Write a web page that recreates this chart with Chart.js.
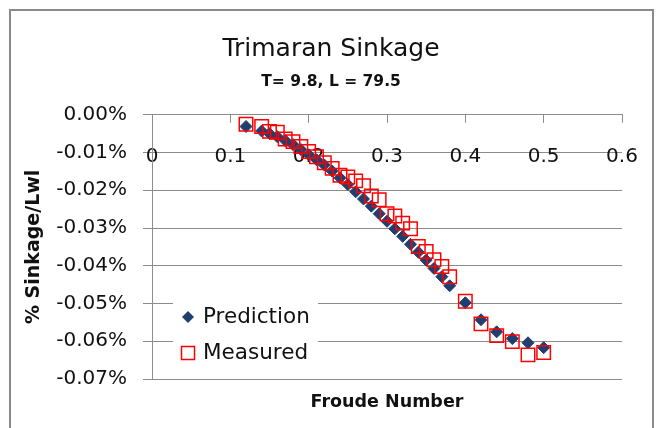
<!DOCTYPE html>
<html>
<head>
<meta charset="utf-8">
<script src="https://cdn.jsdelivr.net/npm/chart.js@4/dist/chart.umd.min.js"></script>
<style>
  html, body { margin: 0; padding: 0; background: #fff; }
  #wrap { position: relative; width: 657px; height: 428px; overflow: hidden; }
  #frame { position: absolute; left: 9px; top: 9px; width: 645px; height: 440px; border: 2px solid #8a8a8a; box-sizing: border-box; }
  canvas { position: absolute; left: 0; top: 0; }
</style>
</head>
<body>
<div id="wrap">
  <div id="frame"></div>
  <canvas id="chart" width="657" height="428"></canvas>
</div>
<script>
// Froude number vs sinkage (% of Lwl)
const froude = [0.12, 0.14, 0.15, 0.16, 0.17, 0.18, 0.19, 0.20, 0.21, 0.22, 0.23, 0.24, 0.25, 0.26, 0.27, 0.28,
                0.29, 0.30, 0.31, 0.32, 0.33, 0.34, 0.35, 0.36, 0.37, 0.38, 0.40, 0.42, 0.44, 0.46, 0.48, 0.50];
const prediction = [-0.0031, -0.0043, -0.0050, -0.0058, -0.0068, -0.0079, -0.0092, -0.0106, -0.0119, -0.0133,
                    -0.0149, -0.0167, -0.0185, -0.0204, -0.0223, -0.0242, -0.0262, -0.0282, -0.0302, -0.0322,
                    -0.0343, -0.0364, -0.0385, -0.0407, -0.0429, -0.0453, -0.0498, -0.0543, -0.0575, -0.0593,
                    -0.0604, -0.0617];
const measured = [-0.0025, -0.0031, -0.0044, -0.0046, -0.0064, -0.0071, -0.0084, -0.0097, -0.0111, -0.0127,
                  -0.0142, -0.0160, -0.0165, -0.0175, -0.0188, -0.0215, -0.0225, -0.0262, -0.0268, -0.0287,
                  -0.0302, -0.0349, -0.0362, -0.0384, -0.0402, -0.0429, -0.0494, -0.0554, -0.0585, -0.0601,
                  -0.0636, -0.0630];
const seriesNames = ["Prediction", "Measured"];

const FONT = "'DejaVu Sans', sans-serif";
const NAVY = "#1f3f6f";
const RED = "#ff0000";
const GRID = "#8c8c8c";
const TXT = "#111";

// legend sits inside the plot, lower left, on a white box
const legendBox = {
    id: "legendBox",
    afterDraw(chart) {
        const ctx = chart.ctx;
        const area = chart.chartArea;
        const bx = area.left + 21, by = area.bottom - 83;
        ctx.save();
        ctx.fillStyle = "#fff";
        ctx.fillRect(bx, by, 145, 74);
        const mx = bx + 15, r1 = by + 21, r2 = by + 57;
        // diamond
        ctx.fillStyle = NAVY;
        ctx.beginPath();
        ctx.moveTo(mx - 6, r1); ctx.lineTo(mx, r1 - 6); ctx.lineTo(mx + 6, r1); ctx.lineTo(mx, r1 + 6);
        ctx.closePath();
        ctx.fill();
        // square
        ctx.strokeStyle = RED;
        ctx.lineWidth = 1.5;
        ctx.strokeRect(mx - 6.5, r2 - 6.5, 13, 13);
        ctx.fillStyle = TXT;
        ctx.font = "21.5px " + FONT;
        ctx.textBaseline = "middle";
        ctx.fillText(seriesNames[0], bx + 30, r1);
        ctx.fillText(seriesNames[1], bx + 30, r2);
        ctx.restore();
    }
};

let ctx1 = document.getElementById("chart").getContext("2d");
new Chart(ctx1, {
    type: "scatter",
    data: {
        datasets: [
            {
                label: seriesNames[0],
                data: froude.map((f, i) => ({ x: f, y: prediction[i] })),
                pointStyle: "rectRot",
                pointRadius: 6,
                backgroundColor: NAVY,
                borderColor: NAVY,
                borderWidth: 1,
                order: 1
            },
            {
                label: seriesNames[1],
                data: froude.map((f, i) => ({ x: f, y: measured[i] })),
                pointStyle: "rect",
                pointRadius: 9.5,
                backgroundColor: "rgba(0,0,0,0)",
                borderColor: RED,
                borderWidth: 1.5,
                order: 0
            }
        ]
    },
    options: {
        responsive: false,
        animation: false,
        layout: { padding: { left: 8, top: 34, right: 3, bottom: 0 } },
        plugins: {
            legend: { display: false },
            tooltip: { enabled: false },
            title: {
                display: true, text: "Trimaran Sinkage", color: TXT,
                font: { family: FONT, size: 25, weight: "normal" },
                padding: { top: 0, bottom: 9 }
            },
            subtitle: {
                display: true, text: "T= 9.8, L = 79.5", color: TXT,
                font: { family: FONT, size: 15.5, weight: "bold" },
                padding: { top: 0, bottom: 0 }
            }
        },
        scales: {
            x: {
                type: "linear", position: "top", min: 0, max: 0.6,
                ticks: {
                    stepSize: 0.1, mirror: true, padding: 30, color: TXT,
                    font: { family: FONT, size: 20 },
                    callback: v => String(Math.round(v * 10) / 10)
                },
                grid: { drawOnChartArea: false, drawTicks: true, tickLength: -8, color: GRID },
                border: { display: true, color: GRID, width: 1 },
                afterFit: s => { s.height = 23.2; s.paddingLeft = 0; s.paddingRight = 0; }
            },
            x2: {
                type: "linear", position: "bottom", min: 0, max: 0.6,
                ticks: { display: false },
                grid: { display: false },
                border: { display: false },
                title: {
                    display: true, text: "Froude Number", color: TXT,
                    font: { family: FONT, size: 17.5, weight: "bold" },
                    padding: { top: 0, bottom: 15 }
                },
                afterFit: s => { s.height = 49; s.paddingLeft = 0; s.paddingRight = 0; }
            },
            y: {
                min: -0.07, max: 0,
                ticks: {
                    stepSize: 0.01, padding: 16, color: TXT,
                    font: { family: FONT, size: 20 },
                    callback: v => (Math.abs(v) < 1e-9 ? "0.00" : v.toFixed(2)) + "%"
                },
                grid: { color: GRID, tickLength: 9 },
                border: { color: GRID },
                title: {
                    display: true, text: "% Sinkage/Lwl", color: TXT,
                    font: { family: FONT, size: 19, weight: "bold" },
                    padding: { top: 15, bottom: 0 }
                },
                afterFit: s => { s.width = 144; }
            },
            y2: {
                type: "linear", position: "right", min: -0.07, max: 0,
                ticks: { display: false },
                grid: { display: false },
                border: { display: false },
                afterFit: s => { s.width = 32; }
            }
        }
    },
    plugins: [legendBox]
});
</script>
</body>
</html>
